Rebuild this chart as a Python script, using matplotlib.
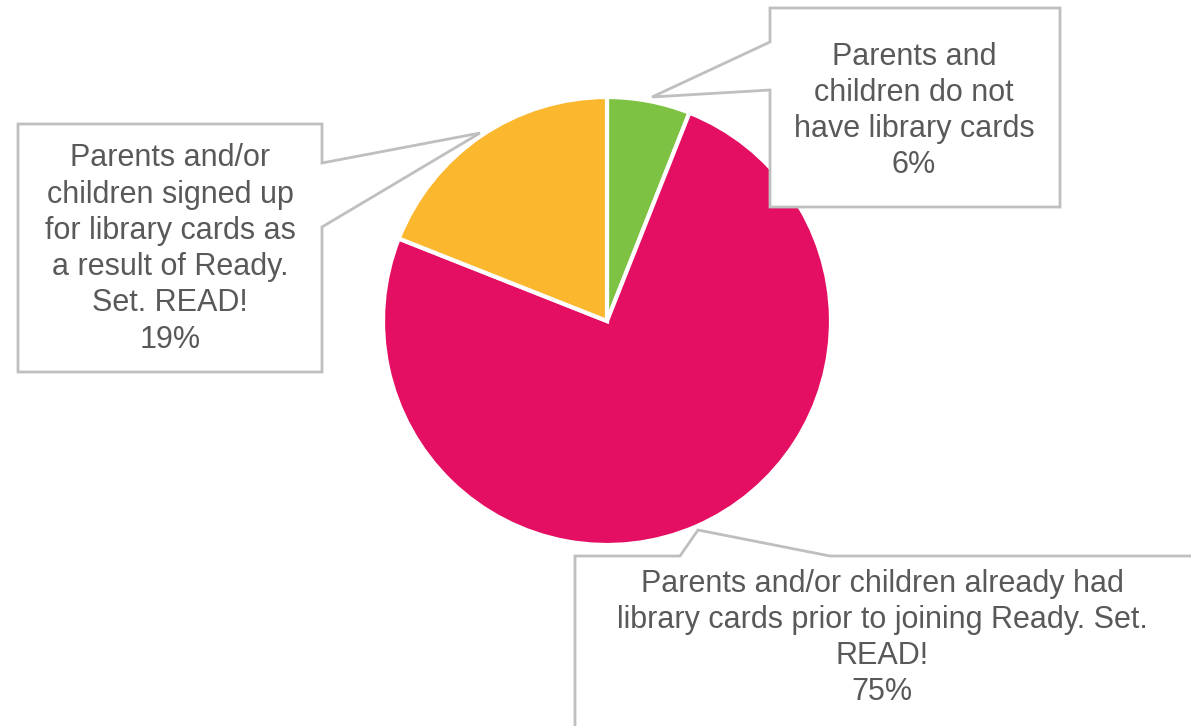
import matplotlib
matplotlib.use("Agg")
import matplotlib.pyplot as plt
from matplotlib.patches import Polygon

plt.rcParams["font.family"] = ["Liberation Sans", "DejaVu Sans"]

# slices in drawing order (clockwise from 12 o'clock)
labels = [
    "Parents and\nchildren do not\nhave library cards",
    "Parents and/or children already had\nlibrary cards prior to joining Ready. Set.\nREAD!",
    "Parents and/or\nchildren signed up\nfor library cards as\na result of Ready.\nSet. READ!",
]
values = [6, 75, 19]
colors = ["#7DC242", "#E40E62", "#FBB82F"]

W, H = 1191, 726
BORDER = "#BFBFBF"
TEXT = "#595959"

fig = plt.figure(figsize=(W / 100, H / 100), dpi=100)
ax = fig.add_axes([0, 0, 1, 1])

# pie in pixel space; y axis is flipped so counterclock=True draws clockwise on screen
ax.pie(
    values,
    colors=colors,
    center=(607, 321),
    radius=224,
    startangle=-90,
    counterclock=True,
    wedgeprops=dict(edgecolor="white", linewidth=3),
    frame=True,
)
ax.set_xlim(0, W)
ax.set_ylim(H, 0)
ax.set_aspect("equal")
ax.axis("off")

# callout shapes (pixel coordinates): box outline with a wedge pointing at its slice
callouts = [
    [(770, 8), (1060, 8), (1060, 207), (770, 207), (770, 90), (652, 97), (770, 42)],
    [(575, 730), (575, 556), (680, 556), (698, 530), (830, 556), (1200, 556), (1200, 730)],
    [(18, 124), (322, 124), (322, 163), (480, 133), (322, 227), (322, 372), (18, 372)],
]
text_pos = [(914, 111), (882, 638), (170, 249)]

for poly, (tx, ty), lab, val in zip(callouts, text_pos, labels, values):
    ax.add_patch(Polygon(poly, closed=True, facecolor="white", edgecolor=BORDER,
                         linewidth=2, zorder=3))
    ax.text(tx, ty, f"{lab}\n{val}%", ha="center", va="center", multialignment="center",
            fontsize=22, color=TEXT, linespacing=1.27, zorder=4)

fig.savefig("out.png", dpi=100, facecolor="white")
